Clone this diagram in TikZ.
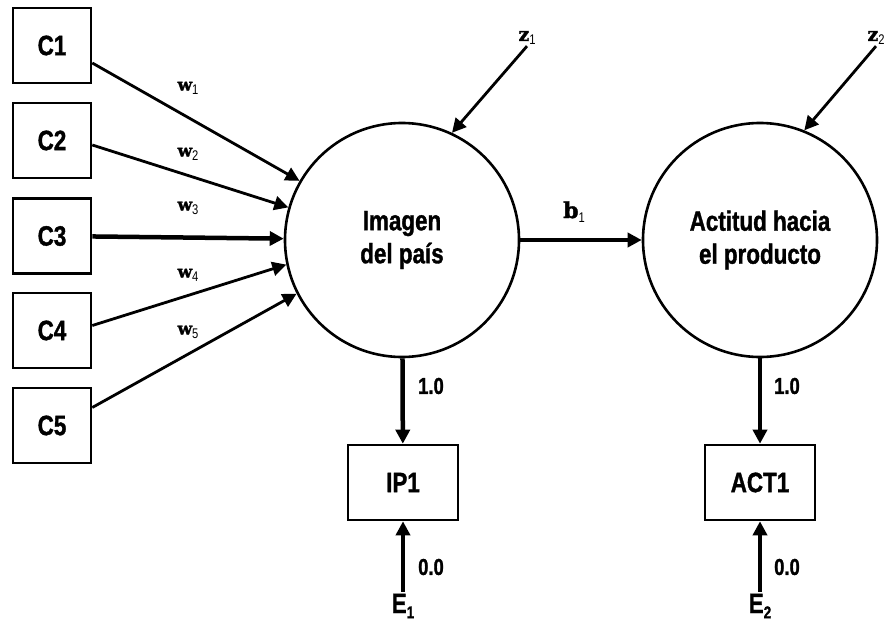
\documentclass[tikz,border=0pt]{standalone}
\usepackage{fontspec}
\setmainfont{Liberation Sans}[FakeStretch=0.8, BoldFeatures={FakeBold=1.2}]
\newfontfamily\coeffont{DejaVu Serif}[BoldFeatures={FakeBold=1.5}]
\usetikzlibrary{arrows.meta}

\newcommand{\coef}[2]{{\coeffont\bfseries #1}\raisebox{-0.4ex}{\fontsize{14}{14}\selectfont #2}}

\begin{document}
\begin{tikzpicture}[x=1pt, y=-1pt,
    box/.style={rectangle, draw, line width=2.6pt, minimum width=78pt, minimum height=75pt, font=\fontsize{28}{30}\selectfont\bfseries},
    latent/.style={circle, draw, line width=2.6pt, minimum size=234pt, align=center, font=\fontsize{28}{33}\selectfont\bfseries},
    arr/.style={line width=2.8pt, -{Triangle[length=14pt,width=14pt]}},
    heavy/.style={arr, line width=4.5pt},
    num/.style={font=\fontsize{23}{23}\selectfont\bfseries},
    wlab/.style={font=\fontsize{17}{17}\selectfont, inner sep=1pt},
    elab/.style={font=\fontsize{28}{28}\selectfont\bfseries, inner sep=2pt}]

    \useasboundingbox (0,0) rectangle (891,623);

    % Indicators
    \node[box] (c1) at (52,45.5) {C1};
    \node[box] (c2) at (52,140.5) {C2};
    \node[box] (c3) at (52,236) {C3};
    \node[box] (c4) at (52,330.5) {C4};
    \node[box] (c5) at (52,425.5) {C5};

    % Constructs
    \node[latent] (img) at (402,240) {Imagen\\del país};
    \node[latent] (act) at (760,240) {Actitud hacia\\el producto};

    % Observed
    \node[box, minimum width=110pt] (ip1) at (403,482.5) {IP1};
    \node[box, minimum width=110pt] (act1) at (760,482.5) {ACT1};

    % Disturbances and errors
    \node[wlab, font=\fontsize{19}{19}\selectfont] (z1) at (527,38) {\coef{z}{1}};
    \node[wlab, font=\fontsize{19}{19}\selectfont] (z2) at (876,38) {\coef{z}{2}};
    \node[elab] (e1) at (403,606) {E\raisebox{-0.35ex}{\fontsize{17}{17}\selectfont 1}};
    \node[elab] (e2) at (760,606) {E\raisebox{-0.35ex}{\fontsize{17}{17}\selectfont 2}};

    % Weights
    \node[wlab] (w1) at (188,88) {\coef{w}{1}};
    \node[wlab] (w2) at (188,154) {\coef{w}{2}};
    \node[wlab] (w3) at (188,208) {\coef{w}{3}};
    \node[wlab] (w4) at (188,275) {\coef{w}{4}};
    \node[wlab] (w5) at (188,332) {\coef{w}{5}};
    \node[wlab, font=\fontsize{22}{22}\selectfont] (b1) at (574,212) {\coef{b}{1}};

    \node[num] (l1) at (431,386) {1.0};
    \node[num] (l2) at (787,386) {1.0};
    \node[num] (l3) at (431,567) {0.0};
    \node[num] (l4) at (787,567) {0.0};

    \draw[arr] ([yshift=-17.5pt]c1.east) -- (img.150);
    \draw[arr] ([yshift=-4.5pt]c2.east) -- (img.164);
    \draw[heavy] (c3) -- (img);
    \draw[arr] ([yshift=5pt]c4.east) -- (img.192);
    \draw[arr] ([yshift=18pt]c5.east) -- (img.207);
    \draw[heavy] (img) -- (act);
    \draw[arr] (z1.south) -- (img.65);
    \draw[arr] (z2.south) -- (act.68);
    \draw[heavy] (img) -- (ip1);
    \draw[heavy] (act) -- (act1);
    \draw[heavy] (e1) -- (ip1);
    \draw[heavy] (e2) -- (act1);
\end{tikzpicture}
\end{document}
